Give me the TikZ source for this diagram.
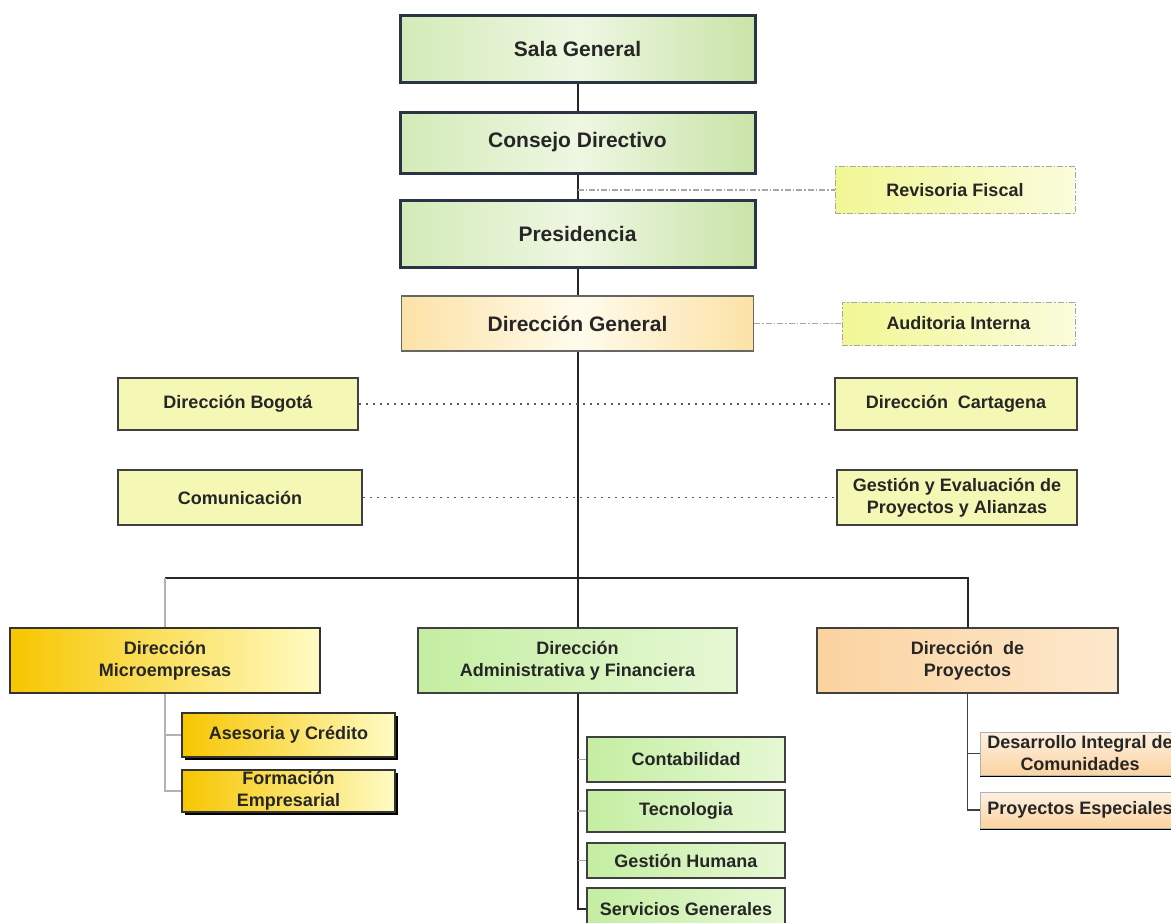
\documentclass[tikz,border=0pt]{standalone}
\usepackage{fontspec}
\setmainfont{Liberation Sans}
\usepackage{tikz}
\usetikzlibrary{calc}
\usetikzlibrary{shadows}
\usetikzlibrary{positioning}

\definecolor{navyedge}{HTML}{2B3446}
\definecolor{topL}{HTML}{D3EBB8}
\definecolor{topM}{HTML}{EEF7E2}
\definecolor{topR}{HTML}{C9E4A8}
\definecolor{genL}{HTML}{FCE2A6}
\definecolor{genM}{HTML}{FFFBEC}
\definecolor{revL}{HTML}{F2F794}
\definecolor{revR}{HTML}{FAFCDC}
\definecolor{sideY}{HTML}{F5F8B4}
\definecolor{goldL}{HTML}{F7C600}
\definecolor{goldR}{HTML}{FFFBC4}
\definecolor{admL}{HTML}{C4EEA2}
\definecolor{admR}{HTML}{E6F8D4}
\definecolor{proL}{HTML}{FBD3A0}
\definecolor{proR}{HTML}{FDE8CC}
\definecolor{proT}{HTML}{FDF1E2}

\begin{document}
\begin{tikzpicture}[x=1pt, y=-1pt,
  every node/.style={font=\bfseries\fontsize{18}{22}\selectfont, text=black!85, align=center, inner sep=0pt},
  topbox/.style={draw=navyedge, line width=3pt, left color=topL, right color=topR, middle color=topM, minimum width=355pt},
  dashbox/.style={draw=gray!70, line width=1pt, dash pattern=on 6pt off 2pt on 1.5pt off 2pt, left color=revL, right color=revR},
  sidebox/.style={draw=black!75, line width=1.5pt, fill=sideY},
  goldbox/.style={draw=black!80, line width=1.5pt, left color=goldL, right color=goldR},
  admbox/.style={draw=black!75, line width=1.5pt, left color=admL, right color=admR},
  probox/.style={draw=black!75, line width=1.5pt, left color=proL, right color=proR},
  conn/.style={draw=black!85, line width=2pt},
  dots/.style={draw=gray!70!black, line width=1.8pt, dash pattern=on 2pt off 5pt}
]

\useasboundingbox (0,0) rectangle (1171,922);
\clip (0,0) rectangle (1171,922);

\node [topbox, minimum height=67pt, font=\bfseries\fontsize{21}{25}\selectfont] at (577.5,48.5) (sala) {Sala General};
\node [topbox, minimum height=61pt, font=\bfseries\fontsize{21}{25}\selectfont] at (577.5,142.5) (consejo) {Consejo Directivo};
\node [topbox, minimum height=67pt, font=\bfseries\fontsize{21}{25}\selectfont] at (577.5,233.5) (pres) {Presidencia};
\node [draw=gray!80!black, line width=1.2pt, left color=genL, right color=genL, middle color=genM, minimum width=352pt, minimum height=55pt, font=\bfseries\fontsize{21}{25}\selectfont] at (577.5,323.5) (dgen) {Dirección General};

\node [dashbox, minimum width=240pt, minimum height=47pt] at (955,190) (revis) {Revisoria Fiscal};
\node [dashbox, minimum width=233pt, minimum height=43pt] at (958.5,323.5) (audit) {Auditoria Interna};

\node [sidebox, minimum width=240pt, minimum height=52pt] at (238,404) (bog) {Dirección Bogotá};
\node [sidebox, minimum width=244pt, minimum height=55pt] at (240,497.5) (comu) {Comunicación};
\node [sidebox, minimum width=242pt, minimum height=52pt] at (956,404) (cart) {Dirección~ Cartagena};
\node [sidebox, minimum width=240pt, minimum height=55pt] at (957,497.5) (gest) {Gestión y Evaluación de\\Proyectos y Alianzas};

\node [goldbox, minimum width=310pt, minimum height=65pt] at (165,660.5) (micro) {Dirección\\Microempresas};
\node [admbox, minimum width=319pt, minimum height=65pt] at (577.5,660.5) (admin) {Dirección\\Administrativa y Financiera};
\node [probox, minimum width=301pt, minimum height=65pt] at (967.5,660.5) (proy) {Dirección~ de\\Proyectos};

\node [goldbox, drop shadow={shadow xshift=2.5pt, shadow yshift=-2.5pt, fill=black, opacity=1}, minimum width=213pt, minimum height=44pt] at (288.5,735) (ases) {Asesoria y Crédito};
\node [goldbox, drop shadow={shadow xshift=2.5pt, shadow yshift=-2.5pt, fill=black, opacity=1}, minimum width=213pt, minimum height=42pt] at (288.5,791) (form) {Formación\\Empresarial};

\node [admbox, minimum width=198pt, minimum height=45pt] at (686,759.5) (conta) {Contabilidad};
\node [admbox, minimum width=198pt, minimum height=42pt] at (686,811) (tecno) {Tecnologia};
\node [admbox, minimum width=198pt, minimum height=35pt] at (686,860.5) (ghum) {Gestión Humana};
\node [admbox, minimum width=198pt, minimum height=42pt] at (686,909) (serv) {Servicios Generales};

\node [draw=gray!60, line width=1pt, top color=proT, bottom color=proL, drop shadow={shadow xshift=0pt, shadow yshift=-2pt, fill=black, opacity=1}, minimum width=200pt, minimum height=43pt] at (1080,753.5) (desa) {Desarrollo Integral de\\Comunidades};
\node [draw=gray!60, line width=1pt, top color=proT, bottom color=proL, drop shadow={shadow xshift=0pt, shadow yshift=-2pt, fill=black, opacity=1}, minimum width=200pt, minimum height=36pt] at (1080,810) (pesp) {Proyectos Especiales};

\coordinate (bus) at (577.5,578);

\path[conn] (sala.south) -- (consejo.north);
\path[conn] (consejo.south) -- (pres.north);
\path[conn] (pres.south) -- (dgen.north);
\path[conn] (dgen.south) -- (admin.north);
\path[conn] (micro.north |- bus) -- (proy.north |- bus) -- (proy.north);
\path[draw=gray!60, line width=1.5pt] (micro.north |- bus) -- (micro.north);

\path[draw=gray!70, line width=1.2pt, dash pattern=on 6pt off 2pt on 1.5pt off 2pt] (consejo.south |- revis.west) -- (revis.west);
\path[draw=gray!70, line width=1.2pt, dash pattern=on 6pt off 2pt on 1.5pt off 2pt] (dgen.east) -- (audit.west);

\path[dots] (bog.east) -- (cart.west);
\path[dots] (comu.east) -- (gest.west);

\path[draw=gray!60, line width=1.5pt] (micro.south) |- (form.west);
\path[draw=gray!60, line width=1.5pt] (micro.south |- ases.west) -- (ases.west);

\path[conn] (admin.south) |- (serv.west);
\foreach \k in {conta, tecno, ghum} {
   \path[draw=gray!70, line width=1.5pt] (admin.south |- \k.west) -- (\k.west);
}

\path[draw=black!75, line width=1.5pt] (proy.south) |- (pesp.west);
\path[draw=black!75, line width=1.5pt] (proy.south |- desa.west) -- (desa.west);
\end{tikzpicture}
\end{document}
